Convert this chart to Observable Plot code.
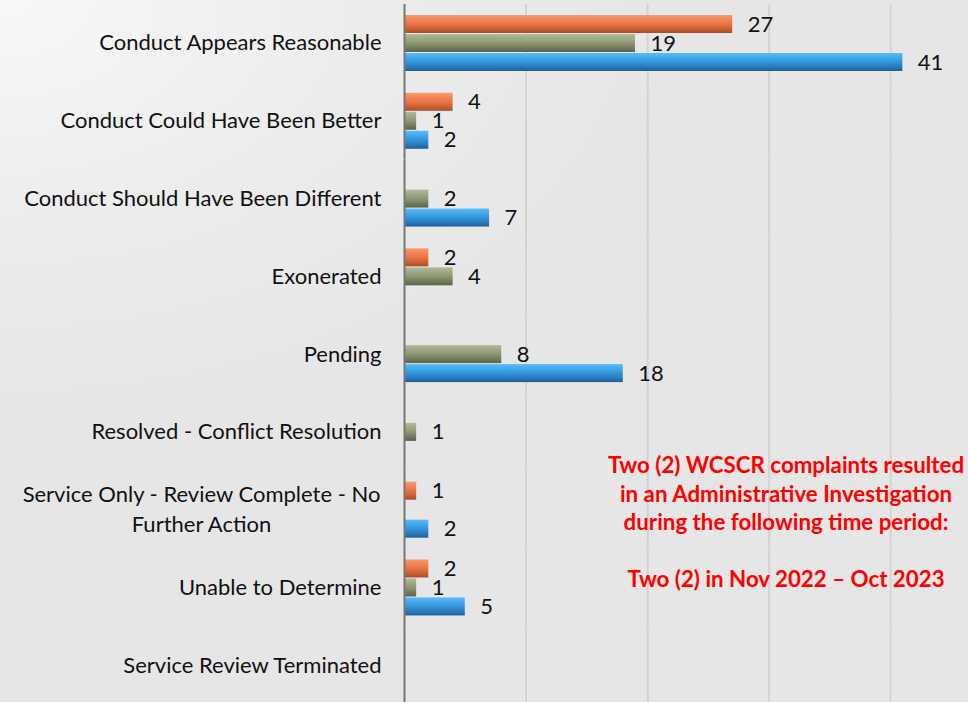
<!DOCTYPE html>
<html>
<head>
<meta charset="utf-8">
<script src="https://cdn.jsdelivr.net/npm/d3@7"></script>
<script src="https://cdn.jsdelivr.net/npm/@observablehq/plot@0.6"></script>
<style>
html, body { margin: 0; padding: 0; width: 968px; height: 702px; overflow: hidden; }
body {
  position: relative;
  background: radial-gradient(ellipse 70% 60% at 0% 0%, #f8f8f8 0%, #ececec 55%, #e6e6e6 100%);
  background-color: #e6e6e6;
  font-family: Lato, "Open Sans", sans-serif;
}
#chart { position: absolute; left: 0; top: 0; }
#note {
  position: absolute; left: 586px; width: 400px; top: 451px;
  text-align: center; color: #ff0000; font-weight: bold;
  font-size: 22.3px; line-height: 28.5px; font-family: Lato, sans-serif;
}
</style>
</head>
<body>
<div id="chart"></div>
<div id="note">Two (2) WCSCR complaints resulted<br>in an Administrative Investigation<br>during the following time period:<br><br>Two (2) in Nov 2022 – Oct 2023</div>
<script>
const categories = [
  "Conduct Appears Reasonable",
  "Conduct Could Have Been Better",
  "Conduct Should Have Been Different",
  "Exonerated",
  "Pending",
  "Resolved - Conflict Resolution",
  "Service Only - Review Complete - No Further Action",
  "Unable to Determine",
  "Service Review Terminated"
];
const multiLineCategory = "Service Only - Review Complete - No Further Action";
const multiLineText = "Service Only - Review Complete - No\nFurther Action";

const seriesNames = ["Series 1", "Series 2", "Series 3"];
const series1Values = [27, 4, null, 2, null, null, 1, 2, null];   // orange
const series2Values = [19, 1, 2, 4, 8, 1, null, 1, null];        // green
const series3Values = [41, 2, 7, null, 18, null, 2, 5, null];    // blue
const gridTicks = [10, 20, 30, 40];

const allValues = [series1Values, series2Values, series3Values];
const rows = [];
categories.forEach((c, i) => {
  allValues.forEach((vals, j) => {
    if (vals[i] != null) rows.push({category: c, series: seriesNames[j], value: vals[i]});
  });
});

const plot = Plot.plot({
  width: 968,
  height: 702,
  marginLeft: 404,
  marginRight: 0,
  marginTop: 4,
  marginBottom: -2,
  style: {background: "transparent", fontFamily: "Lato, sans-serif", color: "#111", overflow: "hidden"},
  x: {domain: [0, 46.4], axis: null},
  y: {domain: seriesNames, axis: null, paddingInner: 0.03, paddingOuter: 0.5},
  fy: {domain: categories, padding: 0, round: false, label: null},
  color: {domain: seriesNames, range: ["url(#gOrange)", "url(#gGreen)", "url(#gBlue)"]},
  marks: [
    Plot.gridX(gridTicks, {stroke: "#d3d3d3", strokeOpacity: 1, strokeWidth: 2}),
    Plot.barX(rows, {fy: "category", y: "series", x: "value", fill: "series"}),
    Plot.ruleX(categories, {fy: d => d, x: 0, stroke: "#767676", strokeWidth: 2}),
    Plot.text(rows, {
      fy: "category", y: "series", x: "value", text: d => String(d.value),
      textAnchor: "start", dx: 15, fontSize: 22, fill: "#111"
    }),
    Plot.axisFy({
      anchor: "left", tickSize: 0, tickPadding: 23, fontSize: 22, label: null,
      tickFormat: d => d === multiLineCategory ? "" : d
    }),
    Plot.text([multiLineCategory], {
      fy: d => d, text: () => multiLineText, frameAnchor: "left",
      textAnchor: "middle", dx: -203, dy: -3, fontSize: 22, lineHeight: 1.36, fill: "#111"
    })
  ]
});

// Bevel-like gradients for the bars
const defs = d3.select(plot).insert("defs", ":first-child");
const grads = {
  gOrange: ["#f79b72", "#f4895b", "#e87445", "#cf6235", "#a94c25"],
  gGreen:  ["#b2bb9a", "#a2ac8a", "#8c9775", "#747e5e", "#5a6247"],
  gBlue:   ["#5bbaf5", "#46adf0", "#3494d9", "#2a7cc0", "#1f5f96"]
};
for (const [id, c] of Object.entries(grads)) {
  const g = defs.append("linearGradient").attr("id", id)
    .attr("x1", 0).attr("y1", 0).attr("x2", 0).attr("y2", 1);
  [[0, c[0]], [0.2, c[1]], [0.5, c[2]], [0.75, c[3]], [1, c[4]]].forEach(([o, col]) =>
    g.append("stop").attr("offset", o).attr("stop-color", col));
}

document.getElementById("chart").appendChild(plot);
</script>
</body>
</html>
